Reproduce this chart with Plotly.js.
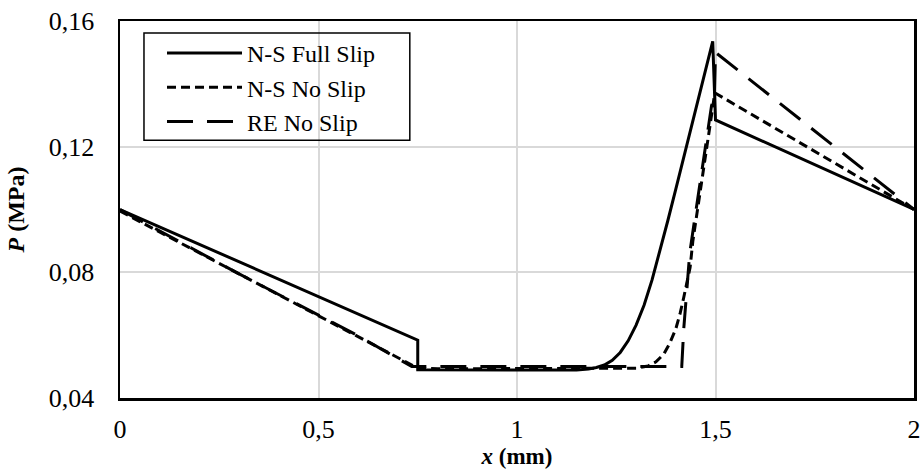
<!DOCTYPE html>
<html>
<head>
<meta charset="utf-8">
<script src="https://cdn.plot.ly/plotly-3.0.1.min.js"></script>
<style>html,body{margin:0;padding:0;background:#fff;}#chart{width:923px;height:470px;}</style>
</head>
<body>
<div id="chart"></div>
<script>
// N-S Full Slip
const xFullSlip = [0, 0.75, 0.75, 1.0, 1.15, 1.18, 1.2, 1.22, 1.24, 1.26, 1.28, 1.30, 1.32, 1.34, 1.36, 1.38, 1.40, 1.45, 1.493, 1.5, 2.0];
const pFullSlip = [0.1, 0.0584, 0.049, 0.0488, 0.0489, 0.0492, 0.0497, 0.0505, 0.052, 0.0545, 0.0582, 0.0632, 0.0695, 0.0775, 0.0868, 0.0965, 0.1065, 0.1315, 0.1535, 0.1285, 0.1];
// N-S No Slip
const xNoSlip = [0, 0.25, 0.5, 0.7, 0.75, 0.8, 1.0, 1.3, 1.33, 1.35, 1.37, 1.385, 1.40, 1.411, 1.42, 1.428, 1.436, 1.443, 1.46, 1.475, 1.49, 1.498, 1.5, 2.0];
const pNoSlip = [0.0995, 0.0828, 0.066, 0.0528, 0.0495, 0.0493, 0.0494, 0.0495, 0.0502, 0.0515, 0.054, 0.0575, 0.062, 0.067, 0.072, 0.0766, 0.0815, 0.09, 0.104, 0.117, 0.13, 0.137, 0.137, 0.1];
// RE No Slip
const xRE = [0, 0.3, 0.6, 0.735, 1.0, 1.415, 1.42, 1.428, 1.435, 1.45, 1.47, 1.49, 1.497, 1.5, 2.0];
const pRE = [0.1, 0.0795, 0.0598, 0.05, 0.05, 0.05, 0.062, 0.076, 0.086, 0.099, 0.116, 0.133, 0.136, 0.15, 0.1];

const seriesNames = ['N-S Full Slip', 'N-S No Slip', 'RE No Slip'];
const xTicks = [0, 0.5, 1, 1.5, 2];
const yTicks = [0.04, 0.08, 0.12, 0.16];

const font = 'Liberation Serif, Times New Roman, serif';

const traces = [
  {x: xFullSlip, y: pFullSlip, name: seriesNames[0], mode: 'lines',
   line: {color: '#000', width: 3, dash: 'solid'}},
  {x: xNoSlip, y: pNoSlip, name: seriesNames[1], mode: 'lines',
   line: {color: '#000', width: 3, dash: '9px,5px'}},
  {x: xRE, y: pRE, name: seriesNames[2], mode: 'lines',
   line: {color: '#000', width: 3, dash: '26px,14px'}}
];

const layout = {
  width: 923, height: 470,
  margin: {l: 120, r: 9, t: 21, b: 72},
  paper_bgcolor: '#fff', plot_bgcolor: '#fff',
  separators: ', ',
  font: {family: font, color: '#000', size: 26},
  showlegend: true,
  legend: {
    x: 0.0529, y: 0.9735, xanchor: 'left', yanchor: 'top',
    bgcolor: 'rgba(0,0,0,0)', borderwidth: 0,
    font: {family: font, size: 24, color: '#000'},
    itemwidth: 75
  },
  shapes: [{
    type: 'rect', xref: 'paper', yref: 'paper',
    x0: 0.0302, x1: 0.365, y0: 0.684, y1: 0.968,
    line: {color: '#000', width: 1.5}, fillcolor: 'rgba(0,0,0,0)', layer: 'above'
  }],
  xaxis: {
    range: [0, 2], tickvals: xTicks, ticks: '',
    showgrid: true, gridcolor: '#d9d9d9', gridwidth: 2,
    zeroline: false, showline: true, linecolor: '#000', linewidth: 2.5, mirror: true,
    tickfont: {family: font, size: 26, color: '#000'},
    ticklabelstandoff: 6,
    title: {text: '<b><i>x</i> (mm)</b>', font: {family: font, size: 23, color: '#000'}, standoff: 3}
  },
  yaxis: {
    range: [0.04, 0.16], tickvals: yTicks, tickformat: '.2f', ticks: '',
    showgrid: true, gridcolor: '#d9d9d9', gridwidth: 2,
    zeroline: false, showline: true, linecolor: '#000', linewidth: 2.5, mirror: true,
    tickfont: {family: font, size: 26, color: '#000'},
    ticklabelstandoff: 18,
    title: {text: '<b><i>P</i> (MPa)</b>', font: {family: font, size: 24, color: '#000'}, standoff: 18}
  }
};

Plotly.newPlot('chart', traces, layout, {displayModeBar: false, staticPlot: true});
</script>
</body>
</html>
